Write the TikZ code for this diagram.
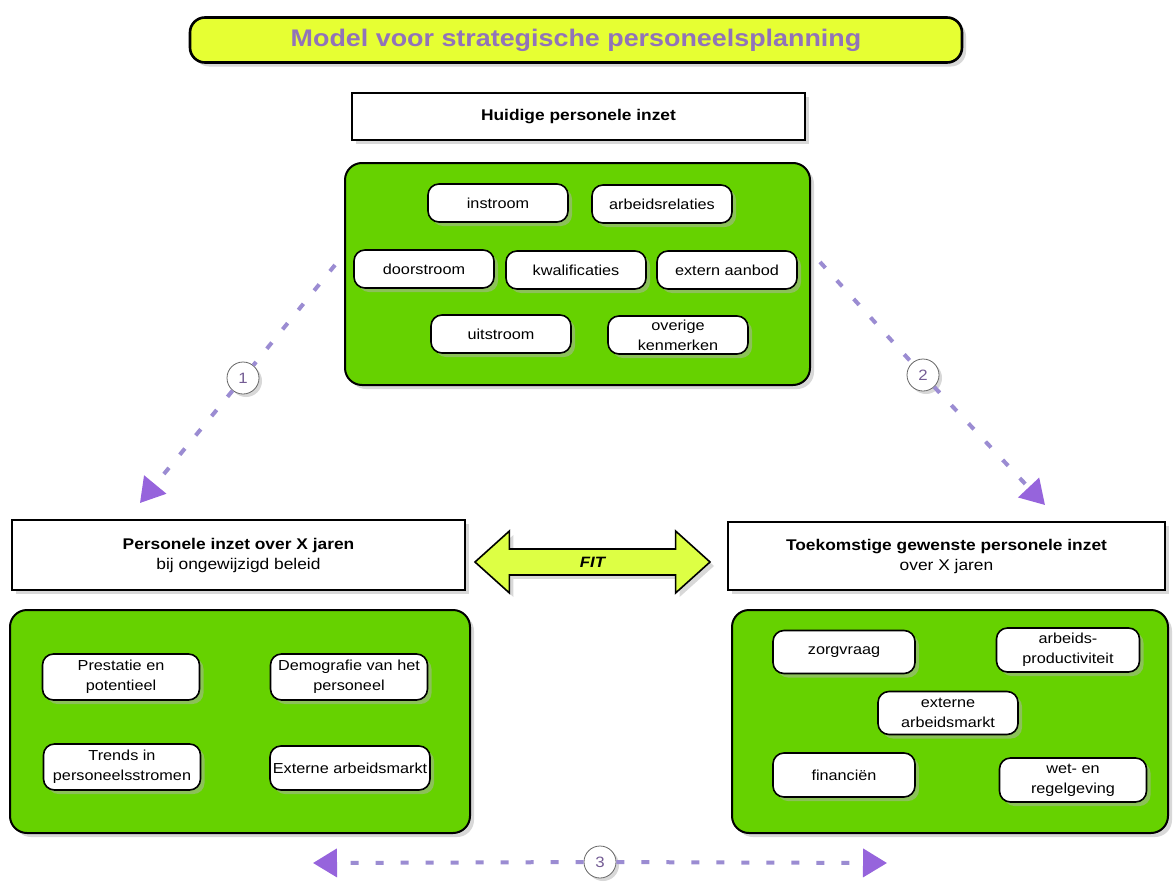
\documentclass[tikz,border=0pt]{standalone}
\usepackage{fontspec}
\setmainfont[FakeStretch=1.12]{Liberation Sans}
\usetikzlibrary{positioning,shapes,shapes.arrows,shadows,arrows.meta,fit}

\definecolor{leaf}{RGB}{102,210,0}
\definecolor{lime}{RGB}{230,255,51}
\definecolor{fitlime}{RGB}{221,255,68}
\definecolor{lila}{RGB}{145,115,185}
\definecolor{dashlila}{RGB}{155,140,210}
\definecolor{tiplila}{RGB}{150,100,220}

\tikzset{
  shade3/.style={drop shadow={shadow xshift=4pt, shadow yshift=-4pt, fill=black!30}},
  panel/.style={draw, line width=2pt, fill=leaf, rounded corners=17pt, shade3},
  pill/.style={draw, line width=1.6pt, fill=white, rounded corners=11pt, align=center,
    minimum width=140pt, minimum height=38pt, inner sep=1pt, shade3,
    font=\fontsize{14.5}{20}\selectfont},
  headbox/.style={draw, line width=1.6pt, fill=white, align=center, shade3,
    font=\fontsize{15.5}{20}\selectfont},
  num/.style={circle, draw=black!60, line width=0.8pt, fill=white, minimum size=32pt,
    inner sep=0pt, text=lila!80!black, font=\fontsize{15}{15}\selectfont,
    drop shadow={shadow xshift=3pt, shadow yshift=-3pt, fill=black!30}},
  flow/.style={dashlila, line width=4pt, dash pattern=on 8pt off 17pt},
  flowtip/.style={-{Triangle[length=24pt,width=28pt,color=tiplila]}}
}

\begin{document}
\begin{tikzpicture}[x=1pt, y=-1pt]
\fill[white] (0,0) rectangle (1173,894);
\useasboundingbox (0,0) rectangle (1173,894);

% title
\node[draw, line width=2.6pt, fill=lime, rounded corners=15pt, minimum width=772pt,
  minimum height=45pt, shade3, text=lila, font=\fontsize{24}{24}\selectfont\bfseries]
  (title) at (576,40) {Model voor strategische personeelsplanning};

% huidige inzet
\node[headbox, minimum width=453pt, minimum height=47pt] (nowhead) at (578.5,116.5)
  {\textbf{Huidige personele inzet}};
\node[panel, minimum width=465pt, minimum height=222pt] (nowpanel) at (577.5,274) {};
\node[pill] (instroom) at (498,203) {instroom};
\node[pill] (relaties) at (662,204) {arbeidsrelaties};
\node[pill] (doorstroom) at (424,269) {doorstroom};
\node[pill] (kwalif) at (576,270) {kwalificaties};
\node[pill] (extern) at (727,270) {extern aanbod};
\node[pill] (uitstroom) at (501,334) {uitstroom};
\node[pill] (overig) at (678,335) {overige\\kenmerken};

% ongewijzigd beleid
\node[headbox, minimum width=453pt, minimum height=70pt] (lefthead) at (238.5,555)
  {\textbf{Personele inzet over X jaren}\\bij ongewijzigd beleid};
\node[panel, minimum width=460pt, minimum height=223pt] (leftpanel) at (240,721.5) {};
\node[pill, minimum width=157pt, minimum height=46pt] (prestatie) at (121,677) {Prestatie en\\potentieel};
\node[pill, minimum width=157pt, minimum height=46pt] (demografie) at (349,677) {Demografie van het\\personeel};
\node[pill, minimum width=157pt, minimum height=46pt] (trends) at (122,767) {Trends in\\personeelsstromen};
\node[pill, minimum width=160pt, minimum height=44pt] (markt) at (350,768) {Externe arbeidsmarkt};

% gewenste inzet
\node[headbox, minimum width=437pt, minimum height=68pt] (righthead) at (946.5,556)
  {\textbf{Toekomstige gewenste personele inzet}\\over X jaren};
\node[panel, minimum width=436pt, minimum height=223pt] (rightpanel) at (950,721.5) {};
\node[pill, minimum width=142pt, minimum height=43pt] (zorg) at (844,652) {zorgvraag};
\node[pill, minimum width=143pt, minimum height=44pt] (product) at (1068,650) {arbeids-\\productiviteit};
\node[pill, minimum width=140pt, minimum height=43pt] (extmarkt) at (948,713) {externe\\arbeidsmarkt};
\node[pill, minimum width=142pt, minimum height=44pt] (financ) at (844,775) {financiën};
\node[pill, minimum width=147pt, minimum height=44pt] (wet) at (1073,780) {wet- en\\regelgeving};

% FIT
\node[double arrow, draw, line width=1.6pt, fill=fitlime, minimum height=235pt,
  inner ysep=7pt, double arrow head extend=18pt, double arrow tip angle=84, shade3,
  font=\fontsize{15}{15}\selectfont\bfseries\itshape] (fit) at (592.5,562) {FIT};

% stappen
\coordinate (s1) at (335,265);
\coordinate (t1) at (140,503);
\coordinate (s2) at (820,262);
\coordinate (t2) at (1045,505);
\coordinate (t3l) at (313,863);
\coordinate (t3r) at (887,863);
\node[num] (c1) at (243,378) {1};
\node[num] (c2) at (923,375) {2};
\node[num] (c3) at (600,862) {3};
\draw[flow] (s1) -- (c1);
\draw[flow, flowtip] (c1) -- (t1);
\draw[flow] (s2) -- (c2);
\draw[flow, flowtip] (c2) -- (t2);
\draw[flow, flowtip] (c3) -- (t3l);
\draw[flow, flowtip] (c3) -- (t3r);
\end{tikzpicture}
\end{document}
